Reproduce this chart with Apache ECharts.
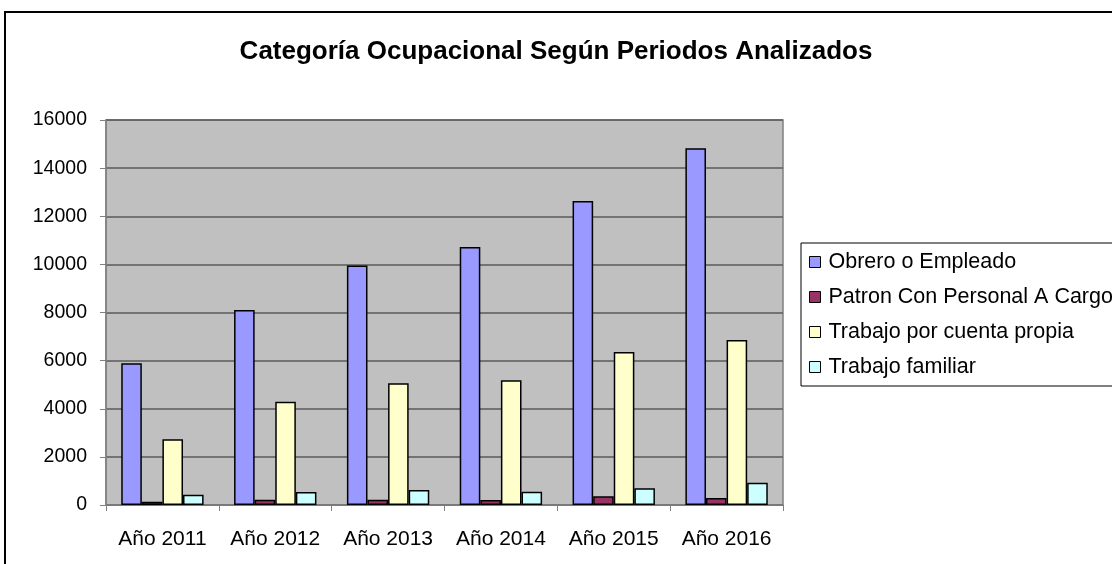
<!DOCTYPE html>
<html>
<head>
<meta charset="utf-8">
<script src="https://cdn.jsdelivr.net/npm/echarts@6/dist/echarts.min.js"></script>
<style>
html,body{margin:0;padding:0;background:#fff;}
#chart{width:1112px;height:564px;}
</style>
</head>
<body>
<div id="chart"></div>
<script>
const titleText = 'Categoría Ocupacional Según Periodos Analizados';
const categories = ['Año 2011', 'Año 2012', 'Año 2013', 'Año 2014', 'Año 2015', 'Año 2016'];
const seriesNames = ['Obrero o Empleado', 'Patron Con Personal A Cargo', 'Trabajo por cuenta propia', 'Trabajo familiar'];
const obrero = [5890, 8100, 9950, 10720, 12630, 14830];
const patron = [140, 220, 220, 210, 360, 290];
const propia = [2730, 4290, 5055, 5180, 6360, 6860];
const familiar = [430, 545, 625, 555, 695, 920];
const yTicks = { min: 0, max: 16000, interval: 2000 };
const colors = ['#9999FF', '#993366', '#FFFFCC', '#CCFFFF'];

const chart = echarts.init(document.getElementById('chart'), null, { renderer: 'canvas' });
const font = 'Liberation Sans, Arial, sans-serif';
const dataSets = [obrero, patron, propia, familiar];

chart.setOption({
  animation: false,
  backgroundColor: '#ffffff',
  graphic: [{
    type: 'rect',
    shape: { x: 5, y: 12, width: 1200, height: 700 },
    style: { fill: 'none', stroke: '#000', lineWidth: 2 },
    z: 100
  }],
  title: {
    text: titleText,
    left: 'center',
    top: 34,
    textStyle: { fontFamily: font, fontSize: 26, fontWeight: 'bold', color: '#000' }
  },
  legend: {
    orient: 'vertical',
    left: 801,
    top: 243,
    padding: [8, 40, 8, 8],
    itemGap: 13,
    itemWidth: 11,
    itemHeight: 11,
    borderColor: '#000',
    borderWidth: 1,
    icon: 'rect',
    itemStyle: { borderColor: '#000', borderWidth: 1 },
    textStyle: { fontFamily: font, fontSize: 21.5, lineHeight: 21.5, color: '#000', padding: [0, 0, 0, 3] },
    data: seriesNames
  },
  grid: {
    left: 106, right: 329, top: 120, bottom: 59,
    show: true,
    backgroundColor: '#C0C0C0',
    borderColor: '#808080',
    borderWidth: 1.5
  },
  xAxis: {
    type: 'category',
    data: categories,
    axisLine: { show: true, lineStyle: { color: '#808080', width: 1.5 } },
    axisTick: { show: true, length: 6, lineStyle: { color: '#808080' } },
    axisLabel: { fontFamily: font, fontSize: 21, color: '#000', margin: 24, interval: 0 }
  },
  yAxis: {
    type: 'value',
    min: yTicks.min,
    max: yTicks.max,
    interval: yTicks.interval,
    axisLine: { show: true, lineStyle: { color: '#808080', width: 1.5 } },
    axisTick: { show: true, length: 6, lineStyle: { color: '#808080' } },
    axisLabel: { fontFamily: font, fontSize: 19.5, color: '#000', margin: 19, formatter: (v) => String(v) },
    splitLine: { show: true, lineStyle: { color: '#5a5a5a', width: 1.5 } }
  },
  series: seriesNames.map((name, i) => ({
    name: name,
    type: 'bar',
    data: dataSets[i],
    barGap: '0%',
    barCategoryGap: '27%',
    itemStyle: { color: colors[i], borderColor: '#000', borderWidth: 1.5 }
  }))
});
</script>
</body>
</html>
